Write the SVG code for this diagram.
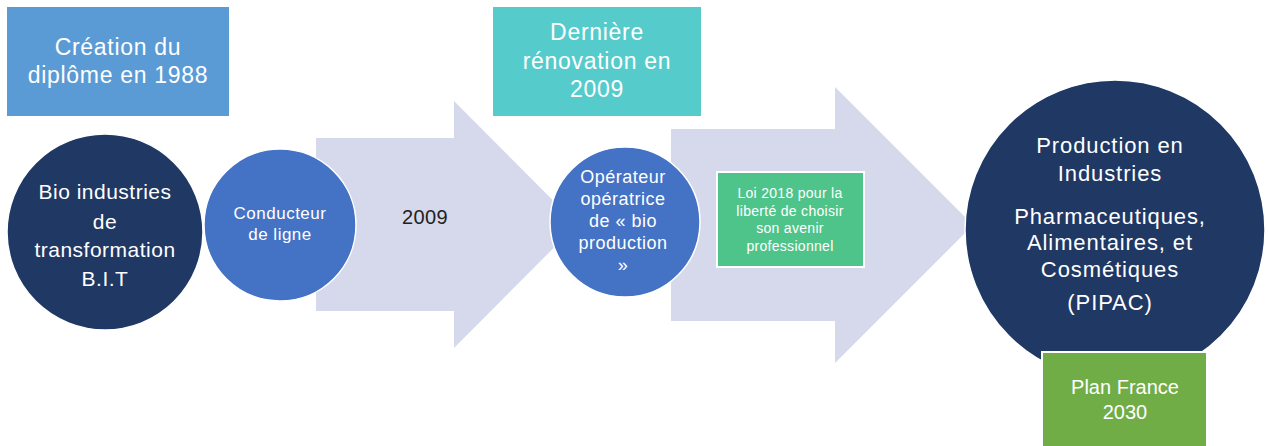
<svg xmlns="http://www.w3.org/2000/svg" width="1268" height="446" viewBox="0 0 1268 446">
<style>
text{font-family:"Liberation Sans",Arial,sans-serif;fill:#fff;text-anchor:middle}
.arrow{fill:#d5d9eb}
.c{stroke:#fff;stroke-width:1.5}
.dark{fill:#203864}
.mid{fill:#4472c4}
.t23{font-size:23px;letter-spacing:0.7px}
.t22{font-size:22px;letter-spacing:0.9px}
.t21{font-size:21px;letter-spacing:0.5px}
.t20{font-size:20px}
.t18{font-size:18px;letter-spacing:0.5px}
.t17{font-size:17px;letter-spacing:0.5px}
.t14{font-size:14px;letter-spacing:0.3px}
</style>
<rect width="1268" height="446" fill="#fff"/>
<g id="connectors">
<polygon class="arrow" points="316,138 454,138 454,101 577,224.5 454,348 454,311 316,311"/>
<polygon class="arrow" points="671,129 835,129 835,87 973,225 835,363 835,321 671,321"/>
<text x="425" y="224" class="t20" style="fill:#222;letter-spacing:0.4px">2009</text>
</g>
<g id="creation">
<rect x="7" y="7" width="222" height="109" fill="#5b9bd5"/>
<text class="t23" x="118" y="55">Création du<tspan x="118" dy="28">diplôme en 1988</tspan></text>
</g>
<g id="renovation">
<rect x="493" y="7" width="208" height="109" fill="#56cbcc"/>
<text class="t23" x="597" y="40">Dernière<tspan x="597" dy="29">rénovation en</tspan><tspan x="597" dy="28">2009</tspan></text>
</g>
<g id="bit">
<circle cx="105" cy="232" r="98" class="dark c"/>
<text class="t21" x="105" y="199">Bio industries<tspan x="105" dy="30">de</tspan><tspan x="105" dy="28">transformation</tspan><tspan x="105" dy="29">B.I.T</tspan></text>
</g>
<g id="conducteur">
<circle cx="280" cy="225" r="76" class="mid c"/>
<text class="t17" x="280" y="219">Conducteur<tspan x="280" dy="21">de ligne</tspan></text>
</g>
<g id="operateur">
<circle cx="625" cy="222" r="75" class="mid c"/>
<text class="t18" x="623" y="183">Opérateur<tspan x="623" dy="22">opératrice</tspan><tspan x="623" dy="22">de « bio</tspan><tspan x="623" dy="22">production</tspan><tspan x="623" dy="22">»</tspan></text>
</g>
<g id="loi2018">
<rect x="717" y="172" width="147" height="95" fill="#4fc48a" stroke="#fff" stroke-width="2"/>
<text class="t14" x="790" y="198">Loi 2018 pour la<tspan x="790" dy="18">liberté de choisir</tspan><tspan x="790" dy="17">son avenir</tspan><tspan x="790" dy="18">professionnel</tspan></text>
</g>
<g id="pipac">
<circle cx="1115" cy="230" r="150" class="dark c"/>
<text class="t22" x="1110" y="153">Production en<tspan x="1110" dy="28">Industries</tspan><tspan x="1110" dy="43">Pharmaceutiques,</tspan><tspan x="1110" dy="26">Alimentaires, et</tspan><tspan x="1110" dy="27">Cosmétiques</tspan><tspan x="1110" dy="33">(PIPAC)</tspan></text>
</g>
<g id="france2030">
<rect x="1042" y="352" width="165" height="100" fill="#70ad47" stroke="#fff" stroke-width="2"/>
<text class="t20" x="1125" y="394">Plan France<tspan x="1125" dy="25">2030</tspan></text>
</g>
</svg>
